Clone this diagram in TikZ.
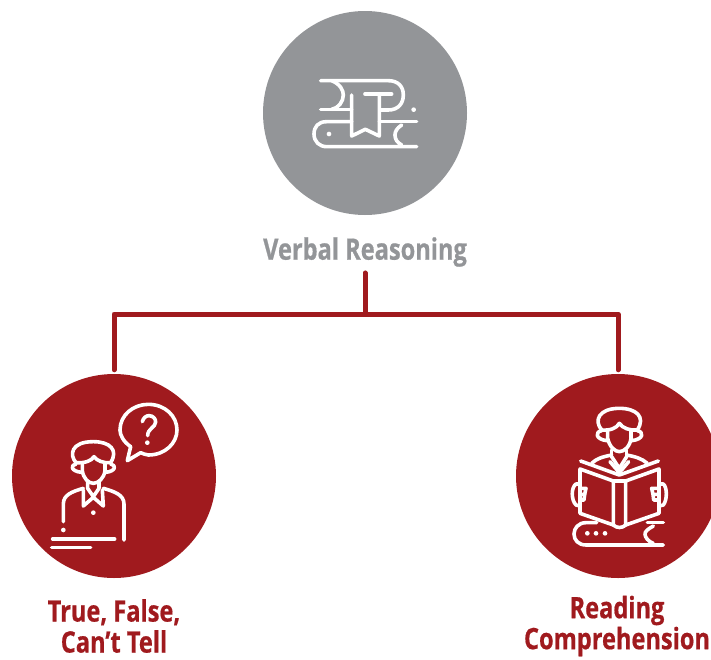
\documentclass[tikz,border=0pt]{standalone}
\usepackage{fontspec}
\newfontfamily\labfont[FakeStretch=0.8,FakeBold=0.6]{Open Sans}
\definecolor{brick}{HTML}{A01A1E}
\definecolor{stone}{HTML}{939598}
\tikzset{
  disc/.style={circle,minimum size=204pt,inner sep=0pt,draw=none},
  lab/.style={font=\labfont\bfseries\fontsize{29.5}{31}\selectfont,align=center,inner sep=0pt},
  conn/.style={draw=brick,line width=5pt,line cap=round,line join=round},
  ico/.style={draw=white,line width=3.6pt,line cap=round,line join=round},
  icoarea/.style={x=0.3333pt,y=-0.3333pt}
}
\newcommand{\icodot}[2]{\fill[white] (#1,#2) circle (7);}
\begin{document}
\begin{tikzpicture}[x=1pt,y=-1pt]
\useasboundingbox (0,0) rectangle (711,659);
\clip (0,0) rectangle (711,659);
\node[disc,fill=stone] (top) at (365,113) {};
\node[disc,fill=brick] (tf) at (114,476) {};
\node[disc,fill=brick] (rc) at (618,476) {};
\node[lab,text=stone] (verbal) at (365,252) {Verbal Reasoning};
\node[lab,text=brick] (tflab) at (114,626) {True, False,\\Can’t Tell};
\node[lab,text=brick] (rclab) at (617,626) {Reading\\Comprehension};
\coordinate (bus) at (365,314);
\draw[conn,shorten <=6pt] (verbal.south) -- (bus);
\draw[conn,shorten <=4pt,shorten >=4pt] (tf.north) |- (bus) -| (rc.north);
% books icon
\begin{scope}[shift={(290,60)},icoarea]
\draw[ico] (92,62) -- (295,62) .. controls (325,62) and (340,80) .. (340,105) .. controls (340,130) and (325,150) .. (295,150) -- (272,150);
\draw[ico] (125,62) .. controls (150,72) and (160,90) .. (160,105) .. controls (160,125) and (145,145) .. (125,148);
\draw[ico] (92,148) -- (185,148);
\draw[ico] (225,102) -- (305,102);
\draw[ico] (185,105) -- (185,228) -- (226,208) -- (268,228) -- (268,102);
\draw[ico] (185,185) -- (110,185) .. controls (85,185) and (72,200) .. (72,222) .. controls (72,245) and (88,260) .. (110,260) -- (380,260);
\draw[ico] (268,185) -- (380,185);
\draw[ico] (335,195) .. controls (320,205) and (315,215) .. (315,225) .. controls (315,238) and (322,248) .. (335,255);
\icodot{371}{149}\icodot{117}{222}
\end{scope}
% person with question icon
\begin{scope}[shift={(40,400)},icoarea]
\draw[ico] (272,140) .. controls (250,125) and (240,105) .. (240,90) .. controls (240,45) and (280,13) .. (325,13) .. controls (375,13) and (411,48) .. (411,90) .. controls (411,130) and (375,165) .. (325,165) .. controls (315,165) and (310,160) .. (302,158) -- (262,182) -- cycle;
\draw[ico] (307,65) .. controls (310,52) and (320,47) .. (327,47) .. controls (340,47) and (347,57) .. (347,66) .. controls (347,82) and (323,85) .. (323,107);
\icodot{322}{128}
\draw[ico] (108,188) .. controls (88,165) and (92,125) .. (160,125) .. controls (210,125) and (236,150) .. (212,188);
\draw[ico] (108,188) .. controls (135,190) and (155,182) .. (162,170) .. controls (170,182) and (190,190) .. (212,188);
\draw[ico] (127,190) -- (127,212) .. controls (130,235) and (145,250) .. (160,250) .. controls (175,250) and (192,235) .. (195,212) -- (195,190);
\draw[ico] (108,192) .. controls (90,195) and (92,214) .. (125,217);
\draw[ico] (212,192) .. controls (230,195) and (228,214) .. (197,217);
\draw[ico] (143,245) -- (143,265) -- (160,290) -- (177,265) -- (177,245);
\draw[ico] (130,270) -- (130,318) -- (160,292) -- (190,318) -- (187,270);
\draw[ico] (70,365) -- (70,312) .. controls (70,285) and (95,275) .. (130,265);
\draw[ico] (252,420) -- (252,312) .. controls (252,285) and (225,275) .. (190,265);
\icodot{160}{338}\icodot{70}{390}
\draw[ico] (38,417) -- (224,417);
\draw[ico] (35,443) -- (152,443);
\end{scope}
% reader icon
\begin{scope}[shift={(560,400)},icoarea]
\draw[ico] (125,90) .. controls (100,60) and (118,25) .. (178,25) .. controls (228,25) and (258,50) .. (232,90);
\draw[ico] (125,90) .. controls (150,92) and (170,85) .. (178,70) .. controls (188,85) and (210,92) .. (232,90);
\draw[ico] (143,92) -- (143,115) .. controls (148,140) and (165,155) .. (178,155) .. controls (192,155) and (210,140) .. (213,115) -- (213,92);
\draw[ico] (125,92) .. controls (105,95) and (105,118) .. (141,122);
\draw[ico] (232,92) .. controls (252,95) and (252,118) .. (215,122);
\draw[ico] (155,150) -- (155,172); \draw[ico] (200,150) -- (200,172);
\draw[ico] (95,190) .. controls (110,175) and (130,170) .. (155,165);
\draw[ico] (262,190) .. controls (245,175) and (225,170) .. (200,165);
\draw[ico] (155,170) -- (178,205) -- (200,170);
\draw[ico] (150,185) -- (178,218) -- (206,185);
\draw[ico] (62,183) -- (178,225) -- (295,183);
\draw[ico] (60,207) -- (160,243) -- (160,375) -- (60,340) -- cycle;
\draw[ico] (297,207) -- (197,243) -- (197,375) -- (297,340) -- cycle;
\draw[ico] (160,243) -- (197,243);
\draw[ico] (160,375) .. controls (170,385) and (187,385) .. (197,375);
\draw[ico] (60,252) -- (48,252) .. controls (33,262) and (33,300) .. (48,315) -- (60,318);
\draw[ico] (297,252) -- (310,252) .. controls (322,262) and (322,300) .. (310,315) -- (297,318);
\draw[ico] (60,265) -- (78,265) -- (74,283) -- (60,283); \draw[ico] (74,283) -- (72,300) -- (60,300);
\draw[ico] (297,265) -- (275,265) -- (279,283) -- (297,283); \draw[ico] (279,283) -- (281,300) -- (297,300);
\draw[ico] (110,368) -- (78,368) .. controls (55,368) and (42,385) .. (42,402) .. controls (42,420) and (55,435) .. (78,435) -- (310,435);
\draw[ico] (262,368) -- (310,368);
\draw[ico] (280,378) .. controls (262,388) and (255,395) .. (255,402) .. controls (255,412) and (265,425) .. (280,430);
\icodot{82}{400}\icodot{108}{400}\icodot{135}{400}
\end{scope}
\end{tikzpicture}
\end{document}
